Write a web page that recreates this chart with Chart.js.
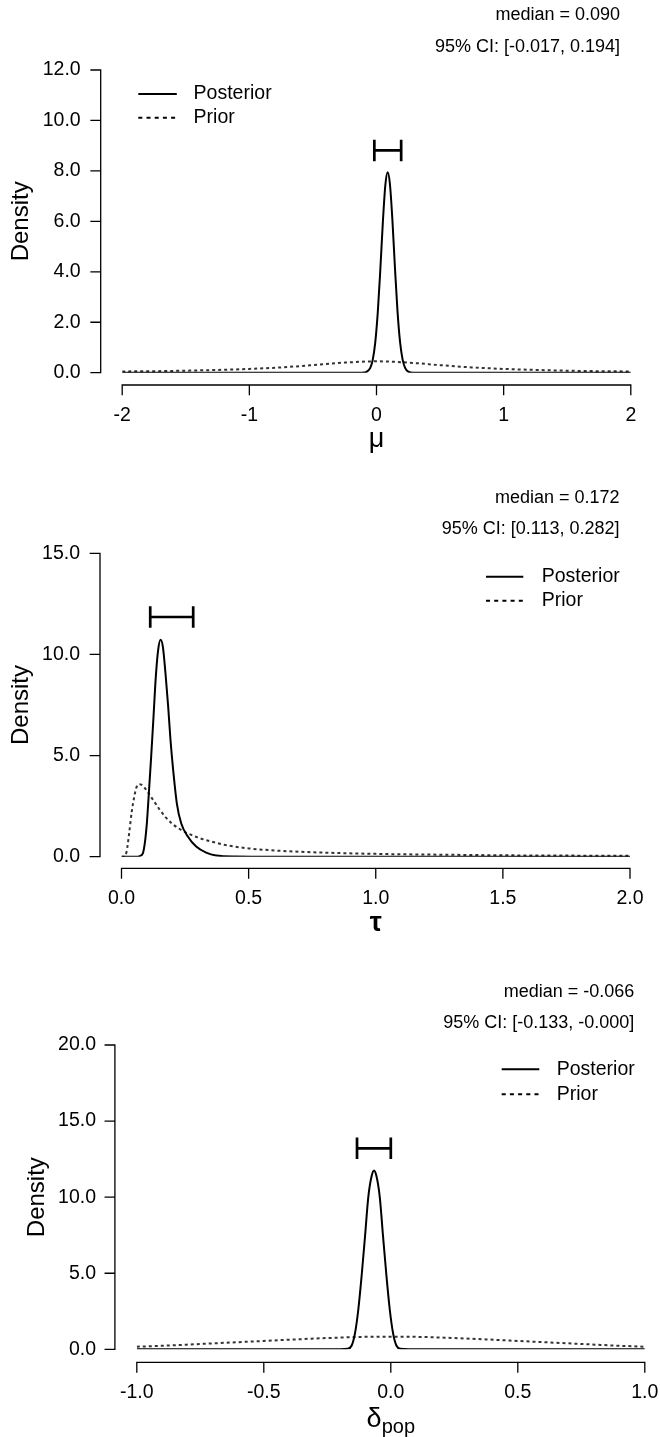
<!DOCTYPE html>
<html>
<head>
<meta charset="utf-8">
<script src="https://cdn.jsdelivr.net/npm/chart.js@4.4.1/dist/chart.umd.min.js"></script>
<style>
html,body{margin:0;padding:0;background:#fff;}
body{width:660px;height:1437px;position:relative;overflow:hidden;}
canvas{position:absolute;left:0;display:block;}
</style>
</head>
<body>
<canvas id="c1" width="660" height="470" style="top:0px;width:660px;height:470px"></canvas>
<canvas id="c2" width="660" height="480" style="top:470px;width:660px;height:480px"></canvas>
<canvas id="c3" width="660" height="487" style="top:950px;width:660px;height:487px"></canvas>
<script>
// ---------------- data ----------------
const seriesLabels = ['Posterior', 'Prior'];

// Panel 1: mu
const muPostX = [-2, -0.5, -0.15, -0.11, -0.08, -0.05, -0.03, -0.01, 0.01, 0.03, 0.05, 0.07, 0.088, 0.105, 0.125, 0.145, 0.165, 0.185, 0.205, 0.225, 0.25, 0.29, 0.5, 2];
const muPostY = [0, 0, 0, 0.003, 0.03, 0.18, 0.5, 1.19, 2.39, 4.08, 5.97, 7.46, 7.95, 7.51, 6.06, 4.17, 2.45, 1.23, 0.53, 0.19, 0.04, 0, 0, 0];
const muPriorX = [-2, -1.75, -1.5, -1.25, -1, -0.75, -0.5, -0.25, 0, 0.25, 0.5, 0.75, 1, 1.25, 1.5, 1.75, 2];
const muPriorY = [0.05, 0.06, 0.08, 0.11, 0.15, 0.21, 0.30, 0.40, 0.45, 0.40, 0.30, 0.21, 0.15, 0.11, 0.08, 0.06, 0.05];
const muCI = [-0.017, 0.194];
const muCIHeight = 8.81;
const muSummary = ['median = 0.090', '95% CI: [-0.017, 0.194]'];
const muXTicks = [-2, -1, 0, 1, 2];
const muXTickLabels = ['-2', '-1', '0', '1', '2'];
const muYTicks = [0, 2, 4, 6, 8, 10, 12];
const muYTickLabels = ['0.0', '2.0', '4.0', '6.0', '8.0', '10.0', '12.0'];

// Panel 2: tau
const tauPostX = [0, 0.06, 0.0708, 0.084, 0.093, 0.0997, 0.1075, 0.1167, 0.1259, 0.135, 0.1442, 0.1534, 0.1626, 0.173, 0.1836, 0.1927, 0.2045, 0.2176, 0.2347, 0.2609, 0.2937, 0.333, 0.372, 0.45, 0.6, 2];
const tauPostY = [0, 0, 0.03, 0.17, 0.8, 1.65, 3.13, 4.95, 6.92, 8.9, 10.22, 10.72, 10.39, 9.07, 7.42, 5.77, 4.12, 2.64, 1.65, 1.0, 0.5, 0.2, 0.06, 0.01, 0, 0];
const tauPriorX = [0, 0.012, 0.02, 0.03, 0.04, 0.05, 0.058, 0.068, 0.078, 0.09, 0.107, 0.13, 0.15, 0.175, 0.2, 0.25, 0.3, 0.35, 0.42, 0.5, 0.6, 0.75, 1.0, 1.25, 1.5, 1.75, 2.0];
const tauPriorY = [0, 0.02, 0.25, 1.15, 2.2, 2.95, 3.4, 3.58, 3.56, 3.42, 3.13, 2.7, 2.33, 1.93, 1.62, 1.22, 0.95, 0.76, 0.55, 0.41, 0.31, 0.22, 0.14, 0.10, 0.07, 0.055, 0.045];
const tauCI = [0.113, 0.282];
const tauCIHeight = 11.85;
const tauSummary = ['median = 0.172', '95% CI: [0.113, 0.282]'];
const tauXTicks = [0, 0.5, 1, 1.5, 2];
const tauXTickLabels = ['0.0', '0.5', '1.0', '1.5', '2.0'];
const tauYTicks = [0, 5, 10, 15];
const tauYTickLabels = ['0.0', '5.0', '10.0', '15.0'];

// Panel 3: delta_pop
const delPostX = [-1, -0.3, -0.2, -0.17, -0.154, -0.141, -0.128, -0.115, -0.1016, -0.0886, -0.0752, -0.066, -0.0568, -0.0434, -0.0304, -0.017, -0.004, 0.009, 0.022, 0.038, 0.07, 1];
const delPostY = [0, 0, 0, 0.03, 0.25, 1.05, 2.6, 4.8, 7.4, 10.0, 11.4, 11.75, 11.4, 10.0, 7.4, 4.8, 2.6, 1.05, 0.25, 0.03, 0, 0];
const delPriorX = [-1, -0.875, -0.75, -0.625, -0.5, -0.375, -0.25, -0.125, 0, 0.125, 0.25, 0.375, 0.5, 0.625, 0.75, 0.875, 1];
const delPriorY = [0.17, 0.25, 0.35, 0.45, 0.55, 0.65, 0.74, 0.81, 0.83, 0.81, 0.74, 0.65, 0.55, 0.45, 0.35, 0.25, 0.17];
const delCI = [-0.133, -0.000];
const delCIHeight = 13.21;
const delSummary = ['median = -0.066', '95% CI: [-0.133, -0.000]'];
const delXTicks = [-1, -0.5, 0, 0.5, 1];
const delXTickLabels = ['-1.0', '-0.5', '0.0', '0.5', '1.0'];
const delYTicks = [0, 5, 10, 15, 20];
const delYTickLabels = ['0.0', '5.0', '10.0', '15.0', '20.0'];

// ---------------- drawing ----------------
const FONT = "'Liberation Sans', Arial, Helvetica, sans-serif";
Chart.defaults.font.family = FONT;
Chart.defaults.color = '#000';
const W = 660;

const zip = (xs, ys) => xs.map((x, i) => ({x: x, y: ys[i]}));

const rstyle = {
  id: 'rstyle',
  afterDraw(chart, args, o) {
    const ctx = chart.ctx;
    const xs = chart.scales.x, ys = chart.scales.y;
    ctx.save();
    ctx.setLineDash([]);
    ctx.strokeStyle = '#000';
    ctx.lineWidth = 1.3;
    ctx.lineCap = 'square';
    const yp = ys.ticks.map(t => ys.getPixelForValue(t.value));
    const xp = xs.ticks.map(t => xs.getPixelForValue(t.value));
    ctx.beginPath();
    ctx.moveTo(o.yAxisX, Math.max(...yp));
    ctx.lineTo(o.yAxisX, Math.min(...yp));
    yp.forEach(p => { ctx.moveTo(o.yAxisX - o.tickLen, p); ctx.lineTo(o.yAxisX, p); });
    ctx.moveTo(Math.min(...xp), o.xAxisY);
    ctx.lineTo(Math.max(...xp), o.xAxisY);
    xp.forEach(p => { ctx.moveTo(p, o.xAxisY); ctx.lineTo(p, o.xAxisY + o.tickLen); });
    ctx.stroke();

    // legend
    const L = o.legend;
    ctx.lineCap = 'butt';
    ctx.fillStyle = '#000';
    ctx.font = L.font;
    ctx.textBaseline = 'middle';
    ctx.textAlign = 'left';
    chart.data.datasets.slice(0, 2).forEach((ds, i) => {
      const y = L.ys[i];
      ctx.beginPath();
      ctx.strokeStyle = '#000';
      ctx.lineWidth = 2;
      ctx.setLineDash(L.dashes[i]);
      ctx.moveTo(L.x1, y);
      ctx.lineTo(L.x2, y);
      ctx.stroke();
      ctx.setLineDash([]);
      ctx.fillText(ds.label, L.tx, y);
    });

    // summary text
    const S = o.summary;
    ctx.font = S.font;
    ctx.textAlign = 'right';
    S.lines.forEach((t, i) => ctx.fillText(t, S.rx, S.ys[i]));

    // subscripted x title
    if (o.subTitle) {
      const T = o.subTitle;
      const cx = (chart.chartArea.left + chart.chartArea.right) / 2;
      ctx.font = T.mainFont;
      const w1 = ctx.measureText(T.main).width;
      ctx.font = T.subFont;
      const w2 = ctx.measureText(T.sub).width;
      const x0 = cx - (w1 + w2) / 2;
      ctx.textAlign = 'left';
      ctx.textBaseline = 'alphabetic';
      ctx.font = T.mainFont;
      ctx.fillText(T.main, x0, T.baseline);
      ctx.font = T.subFont;
      ctx.fillText(T.sub, x0 + w1, T.baseline + T.subDrop);
    }
    ctx.restore();
  }
};

function makePanel(id, p) {
  const H = p.height;
  return new Chart(document.getElementById(id), {
    type: 'line',
    data: {
      datasets: [
        {label: seriesLabels[0], data: zip(p.postX, p.postY), borderColor: '#000', borderWidth: 2,
         pointRadius: 0, cubicInterpolationMode: 'monotone', fill: false, order: 1},
        {label: seriesLabels[1], data: zip(p.priorX, p.priorY), borderColor: '#333', borderWidth: 2,
         borderDash: [3, 3], pointRadius: 0, cubicInterpolationMode: 'monotone', fill: false, order: 2},
        {label: 'CI', data: [{x: p.ci[0], y: p.ciH}, {x: p.ci[1], y: p.ciH}], borderColor: '#000',
         borderWidth: 2.7, pointStyle: 'line', pointRotation: 90, pointRadius: 10.7,
         pointBorderWidth: 2.7, pointBorderColor: '#000', pointBackgroundColor: '#000', fill: false, order: 0}
      ]
    },
    options: {
      responsive: false,
      animation: false,
      events: [],
      layout: {autoPadding: false, padding: {left: 0, top: p.area.top, right: W - p.area.right, bottom: 0}},
      plugins: {
        legend: {display: false},
        tooltip: {enabled: false},
        rstyle: {
          yAxisX: p.yAxisX, xAxisY: p.xAxisY, tickLen: 9.7,
          legend: {font: "19.5px " + FONT, x1: p.leg.x1, x2: p.leg.x2, tx: p.leg.tx, ys: p.leg.ys,
                   dashes: [[], [4, 4.2]]},
          summary: {font: "18px " + FONT, rx: p.sum.rx, ys: p.sum.ys, lines: p.summary},
          subTitle: p.subTitle || null
        }
      },
      scales: {
        x: {
          type: 'linear', min: p.xTicks[0], max: p.xTicks[p.xTicks.length - 1],
          grid: {display: false, drawTicks: true, tickLength: p.xTickPad},
          border: {display: false},
          afterBuildTicks: s => { s.ticks = p.xTicks.map(v => ({value: v})); },
          afterFit: s => { s.height = H - p.area.bottom; },
          ticks: {autoSkip: false, maxRotation: 0, minRotation: 0, padding: 0,
                  font: {size: 19.5}, color: '#000',
                  callback: (v, i) => p.xTickLabels[i]},
          title: p.xTitle ? {display: true, text: p.xTitle, color: '#000',
                  font: {size: 27, weight: p.xTitleWeight || 'normal'},
                  padding: {top: 0, bottom: p.xTitlePad}} : {display: false}
        },
        y: {
          type: 'linear', min: p.yTicks[0], max: p.yTicks[p.yTicks.length - 1],
          grid: {display: false, drawTicks: true, tickLength: p.yTickPad},
          border: {display: false},
          afterBuildTicks: s => { s.ticks = p.yTicks.map(v => ({value: v})); },
          afterFit: s => { s.width = p.area.left; },
          ticks: {autoSkip: false, padding: 0, font: {size: 19.5}, color: '#000',
                  callback: (v, i) => p.yTickLabels[i]},
          title: {display: true, text: 'Density', color: '#000', font: {size: 24},
                  padding: {top: p.yTitlePad, bottom: 0}}
        }
      }
    },
    plugins: [rstyle]
  });
}

makePanel('c1', {
  height: 470,
  area: {left: 122.2, right: 630.8, top: 70, bottom: 372.7},
  yAxisX: 100.7, xAxisY: 385,
  postX: muPostX, postY: muPostY, priorX: muPriorX, priorY: muPriorY,
  ci: muCI, ciH: muCIHeight, summary: muSummary,
  xTicks: muXTicks, xTickLabels: muXTickLabels, yTicks: muYTicks, yTickLabels: muYTickLabels,
  xTickPad: 31.5, yTickPad: 41.5, xTitle: 'μ', xTitlePad: 13.8, yTitlePad: 7.4,
  leg: {x1: 138.3, x2: 176.8, tx: 193.6, ys: [94, 117.7]},
  sum: {rx: 620, ys: [15, 46.7]}
});

makePanel('c2', {
  height: 480,
  area: {left: 121.5, right: 630, top: 83.3, bottom: 386.7},
  yAxisX: 100, xAxisY: 398.3,
  postX: tauPostX, postY: tauPostY, priorX: tauPriorX, priorY: tauPriorY,
  ci: tauCI, ciH: tauCIHeight, summary: tauSummary,
  xTicks: tauXTicks, xTickLabels: tauXTickLabels, yTicks: tauYTicks, yTickLabels: tauYTickLabels,
  xTickPad: 30.5, yTickPad: 41.5, xTitle: 'τ', xTitleWeight: 'bold', xTitlePad: 9.8, yTitlePad: 7.1,
  leg: {x1: 486, x2: 523.3, tx: 541.7, ys: [106.7, 130.7]},
  sum: {rx: 619.5, ys: [28.3, 59.3]}
});

makePanel('c3', {
  height: 487,
  area: {left: 136.8, right: 644.8, top: 95, bottom: 399.3},
  yAxisX: 114.9, xAxisY: 412.3,
  postX: delPostX, postY: delPostY, priorX: delPriorX, priorY: delPriorY,
  ci: delCI, ciH: delCIHeight, summary: delSummary,
  xTicks: delXTicks, xTickLabels: delXTickLabels, yTicks: delYTicks, yTickLabels: delYTickLabels,
  xTickPad: 31.5, yTickPad: 40.8, xTitle: null, yTitlePad: 22.9,
  subTitle: {main: 'δ', sub: 'pop', mainFont: "27px " + FONT, subFont: "20px " + FONT, baseline: 476.7, subDrop: 6},
  leg: {x1: 501.7, x2: 539.3, tx: 556.7, ys: [119.3, 144.3]},
  sum: {rx: 634.3, ys: [41.7, 73.3]}
});
</script>
</body>
</html>
